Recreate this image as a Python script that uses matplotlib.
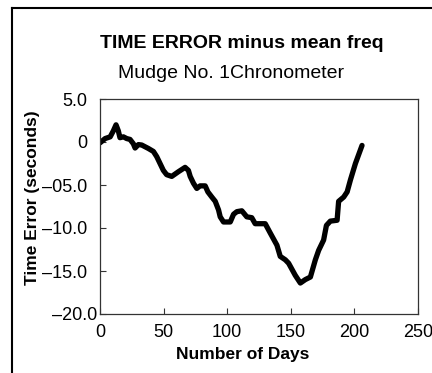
import matplotlib
matplotlib.use("Agg")
import matplotlib.pyplot as plt
from matplotlib.lines import Line2D
from matplotlib import font_manager
import matplotlib.transforms as mtransforms

# Accumulated time error of the chronometer after removing the mean rate
days = [0, 4, 8, 10.5, 12.6, 14.4, 15.7, 18.4, 21, 23.6, 26.2, 27.6, 30.2, 32.8,
        35.4, 38, 42, 44.6, 47.2, 49.8, 52.4, 56.4, 61.7, 66.9, 69.5, 70.9, 73.5,
        76.1, 78.7, 82.7, 84.8, 87.9, 90.6, 93.2, 94.5, 97.1, 102.4, 105, 107.6,
        111.5, 115.4, 119.3, 122, 129.9, 133.9, 139.1, 141.7, 145.7, 148.3, 153.5,
        157.5, 161.4, 165.4, 169.3, 171.9, 175.8, 178, 181.1, 186.4, 187.6, 191.6,
        194.3, 196.9, 200.8, 206]
errors = [-0.1, 0.4, 0.6, 1.3, 2.0, 1.3, 0.5, 0.6, 0.4, 0.3, -0.2, -0.7, -0.3,
          -0.35, -0.55, -0.75, -1.1, -1.7, -2.5, -3.3, -3.8, -4.0, -3.45, -2.95,
          -3.3, -4.0, -4.8, -5.4, -5.1, -5.1, -5.8, -6.4, -6.9, -7.9, -8.7, -9.3,
          -9.3, -8.4, -8.1, -8.0, -8.7, -8.8, -9.5, -9.5, -10.6, -12.0, -13.3,
          -13.7, -14.1, -15.5, -16.4, -16.0, -15.7, -13.7, -12.6, -11.4, -9.7,
          -9.2, -9.1, -6.9, -6.4, -5.8, -4.4, -2.5, -0.4]

x_ticks = [0, 50, 100, 150, 200, 250]
x_tick_labels = ["0", "50", "100", "150", "200", "250"]
y_ticks = [5, 0, -5, -10, -15, -20]
y_tick_labels = ["5.0", "0", "\u201305.0", "\u201310.0", "\u201315.0", "\u201320.0"]

title = "TIME ERROR minus mean freq"
subtitle = "Mudge No. 1Chronometer"
x_label = "Number of Days"
y_label = "Time Error (seconds)"

installed = {f.name for f in font_manager.fontManager.ttflist}
narrow = "Liberation Sans Narrow" if "Liberation Sans Narrow" in installed else "Liberation Sans"
plt.rcParams["font.family"] = [narrow, "DejaVu Sans"]

W, H = 432, 373
fig = plt.figure(figsize=(W / 100, H / 100), dpi=100)
fig.patch.set_facecolor("white")

ax = fig.add_axes([100 / W, 1 - 314 / H, 318 / W, 215 / H])
ax.plot(days, errors, color="black", linewidth=3.8, solid_capstyle="round",
        solid_joinstyle="round")

ax.set_xlim(0, 250)
ax.set_ylim(-20, 5)
ax.set_xticks(x_ticks)
ax.set_xticklabels(x_tick_labels)
ax.set_yticks(y_ticks)
ax.set_yticklabels(y_tick_labels)
ax.tick_params(direction="in", length=4.3, width=0.8, color="#333333",
               labelsize=13, labelcolor="black")
ax.tick_params(axis="x", pad=7)
ax.tick_params(axis="y", pad=9)
for s in ax.spines.values():
    s.set_linewidth(0.9)
    s.set_color("#333333")

# bottom y label sits a little lower-right than the rest
lbl = ax.get_yticklabels()[-1]
lbl.set_transform(lbl.get_transform() + mtransforms.ScaledTranslation(10 / 100, 0, fig.dpi_scale_trans))

fig.text(242 / W, 1 - 43 / H, title, ha="center", va="center",
         fontsize=14, fontweight="bold")
fig.text(231 / W, 1 - 73 / H, subtitle, ha="center", va="center", fontsize=14)
fig.text(243 / W, 1 - 355 / H, x_label, ha="center", va="center",
         fontsize=12.5, fontweight="bold")
fig.text(33 / W, 1 - 198 / H, y_label, ha="center", va="center",
         fontsize=12.5, fontweight="bold", rotation=90)

# partial frame around the figure
fig.add_artist(Line2D([12 / W, 12 / W], [0, 1 - 8 / H], transform=fig.transFigure,
                      color="black", linewidth=1.5))
fig.add_artist(Line2D([12 / W, 1], [1 - 8 / H, 1 - 8 / H], transform=fig.transFigure,
                      color="black", linewidth=1.5))

fig.savefig("out.png", dpi=100)
